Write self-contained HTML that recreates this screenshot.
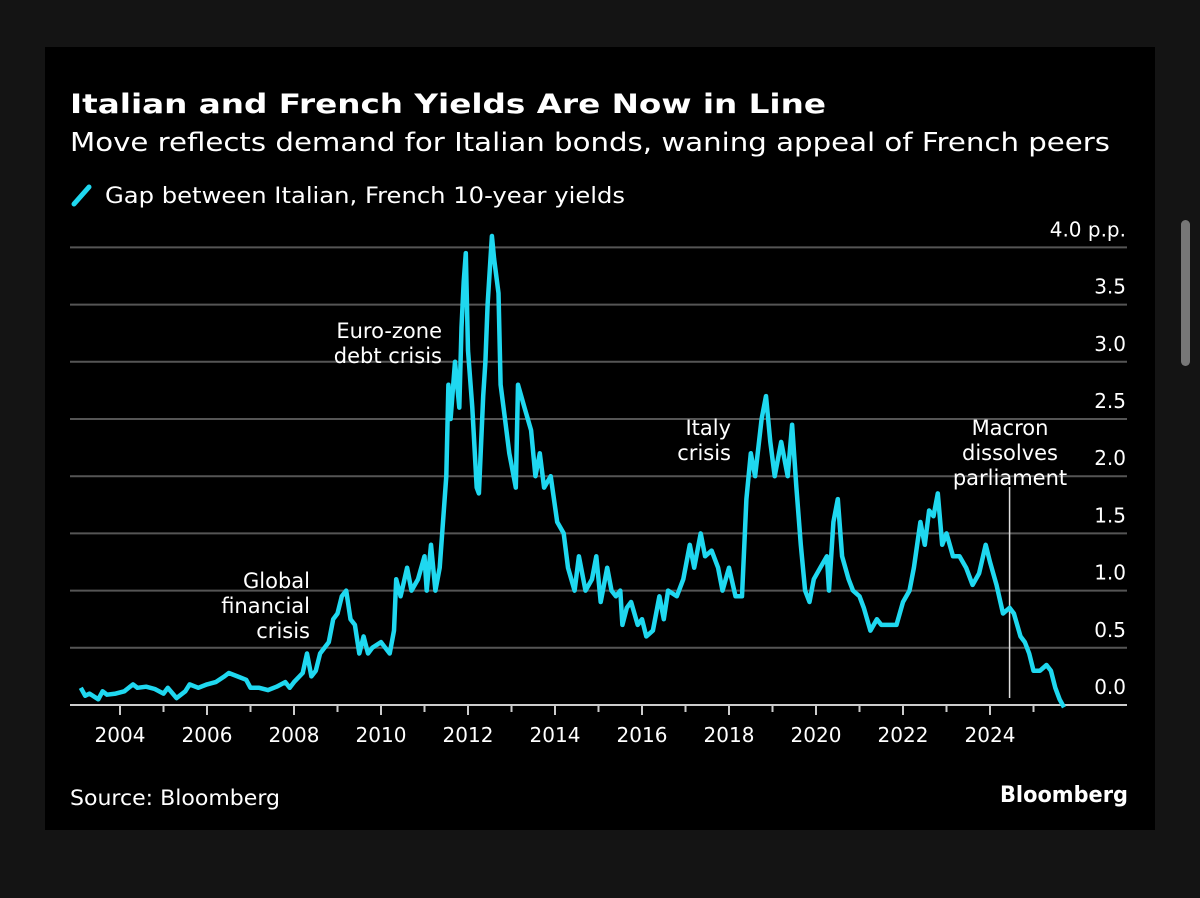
<!DOCTYPE html>
<html><head><meta charset="utf-8"><style>
html,body{margin:0;padding:0;background:#141414;width:1200px;height:898px;overflow:hidden}
svg{display:block}
text{font-family:"DejaVu Sans","Liberation Sans",sans-serif;fill:#fff}
</style></head><body>
<svg id="chart" width="1200" height="898">
<rect x="0" y="0" width="1200" height="898" fill="#141414"/>
<rect x="45" y="47" width="1110" height="783" fill="#000"/>
<rect x="1181" y="220" width="9" height="146" rx="4.5" fill="#777"/>
<text x="70" y="113" font-size="27" font-weight="bold" textLength="756" lengthAdjust="spacingAndGlyphs">Italian and French Yields Are Now in Line</text>
<text x="70" y="151" font-size="26" textLength="1040" lengthAdjust="spacingAndGlyphs">Move reflects demand for Italian bonds, waning appeal of French peers</text>
<line x1="74" y1="204" x2="89" y2="187" stroke="#1fd8f0" stroke-width="5" stroke-linecap="round"/>
<text x="105" y="203" font-size="22" textLength="520" lengthAdjust="spacingAndGlyphs">Gap between Italian, French 10-year yields</text>
<g id="grid"></g>
<g id="xaxis"></g>
<g id="ann"></g>
<path id="series" fill="none" stroke="#1fd8f0" stroke-width="4.5" stroke-linejoin="round"/>
<text x="70" y="805" font-size="21" textLength="210" lengthAdjust="spacingAndGlyphs">Source: Bloomberg</text>
<text x="1128" y="802" font-size="22" font-weight="bold" text-anchor="end" textLength="128" lengthAdjust="spacingAndGlyphs">Bloomberg</text>
</svg>
<script>
const yTicks=[0,0.5,1,1.5,2,2.5,3,3.5,4];
const yTickLabels=["0.0","0.5","1.0","1.5","2.0","2.5","3.0","3.5","4.0 p.p."];
const xTickYears=[2004,2006,2008,2010,2012,2014,2016,2018,2020,2022,2024];
const dates=[2003.1,2003.2,2003.3,2003.5,2003.6,2003.7,2003.9,2004.1,2004.3,2004.4,2004.6,2004.8,2005.0,2005.1,2005.3,2005.5,2005.6,2005.8,2006.0,2006.2,2006.4,2006.5,2006.7,2006.9,2007.0,2007.2,2007.4,2007.6,2007.8,2007.9,2008.0,2008.2,2008.3,2008.4,2008.5,2008.6,2008.8,2008.9,2009.0,2009.1,2009.2,2009.3,2009.4,2009.5,2009.6,2009.7,2009.8,2010.0,2010.1,2010.2,2010.3,2010.35,2010.45,2010.6,2010.7,2010.85,2011.0,2011.05,2011.15,2011.25,2011.35,2011.5,2011.55,2011.6,2011.7,2011.8,2011.85,2011.9,2011.95,2012.0,2012.1,2012.2,2012.25,2012.35,2012.4,2012.45,2012.55,2012.6,2012.7,2012.75,2012.85,2012.95,2013.1,2013.15,2013.3,2013.45,2013.55,2013.65,2013.75,2013.9,2014.05,2014.2,2014.3,2014.45,2014.55,2014.7,2014.85,2014.95,2015.05,2015.2,2015.3,2015.4,2015.5,2015.55,2015.65,2015.75,2015.9,2016.0,2016.1,2016.25,2016.4,2016.5,2016.6,2016.8,2016.95,2017.1,2017.2,2017.35,2017.45,2017.6,2017.75,2017.85,2018.0,2018.15,2018.3,2018.4,2018.5,2018.6,2018.75,2018.85,2018.95,2019.05,2019.2,2019.35,2019.45,2019.55,2019.65,2019.75,2019.85,2019.95,2020.1,2020.25,2020.3,2020.4,2020.5,2020.6,2020.75,2020.85,2021.0,2021.1,2021.25,2021.4,2021.5,2021.7,2021.85,2022.0,2022.15,2022.25,2022.4,2022.5,2022.6,2022.7,2022.8,2022.9,2023.0,2023.15,2023.3,2023.45,2023.6,2023.75,2023.9,2024.0,2024.15,2024.3,2024.45,2024.55,2024.7,2024.8,2024.9,2025.0,2025.15,2025.3,2025.4,2025.5,2025.6,2025.7];
const gapValues=[0.15,0.08,0.10,0.05,0.12,0.09,0.10,0.12,0.18,0.15,0.16,0.14,0.10,0.15,0.06,0.12,0.18,0.15,0.18,0.20,0.25,0.28,0.25,0.22,0.15,0.15,0.13,0.16,0.20,0.15,0.20,0.28,0.45,0.25,0.30,0.45,0.55,0.75,0.80,0.95,1.0,0.75,0.70,0.45,0.60,0.45,0.50,0.55,0.50,0.45,0.65,1.1,0.95,1.2,1.0,1.1,1.3,1.0,1.4,1.0,1.2,2.0,2.8,2.5,3.0,2.6,3.3,3.7,3.95,3.1,2.6,1.9,1.85,2.7,3.0,3.5,4.1,3.9,3.6,2.8,2.5,2.2,1.9,2.8,2.6,2.4,2.0,2.2,1.9,2.0,1.6,1.5,1.2,1.0,1.3,1.0,1.1,1.3,0.9,1.2,1.0,0.95,1.0,0.7,0.85,0.9,0.70,0.75,0.60,0.65,0.95,0.75,1.0,0.95,1.1,1.4,1.2,1.5,1.3,1.35,1.2,1.0,1.2,0.95,0.95,1.8,2.2,2.0,2.5,2.7,2.3,2.0,2.3,2.0,2.45,1.9,1.4,1.0,0.90,1.1,1.2,1.3,1.0,1.6,1.8,1.3,1.1,1.0,0.95,0.85,0.65,0.75,0.7,0.7,0.7,0.9,1.0,1.2,1.6,1.4,1.7,1.65,1.85,1.4,1.5,1.3,1.3,1.2,1.05,1.15,1.4,1.25,1.05,0.8,0.85,0.8,0.6,0.55,0.45,0.3,0.3,0.35,0.30,0.15,0.05,-0.02];
const annotations=[
 {lines:["Global","financial","crisis"],x:310,y:588,anchor:"end"},
 {lines:["Euro-zone","debt crisis"],x:442,y:338,anchor:"end"},
 {lines:["Italy","crisis"],x:731,y:435,anchor:"end"},
 {lines:["Macron","dissolves","parliament"],x:1010,y:435,anchor:"middle"}
];
const X=y=>120+(y-2004)*43.5;
const Y=v=>705-v*114.4;
const NS="http://www.w3.org/2000/svg";
function mk(tag,attrs,parent){const e=document.createElementNS(NS,tag);for(const k in attrs)e.setAttribute(k,attrs[k]);parent.appendChild(e);return e;}
const grid=document.getElementById('grid');
yTicks.forEach((v,i)=>{
 const l=mk('line',{x1:70,x2:1127,y1:Y(v),y2:Y(v),stroke:v===0?'#ccc':'#555','stroke-width':2},grid);
 
 
 const t=mk('text',{x:1126,y:Y(v)-11,'font-size':20,'text-anchor':'end'},grid);
 t.textContent=yTickLabels[i];
 
 
});
const xa=document.getElementById('xaxis');
for(let yr=2004;yr<=2025;yr++){
 const major=xTickYears.includes(yr);
 const tk=mk('line',{x1:X(yr),x2:X(yr),y1:706,y2:major?715:712,stroke:'#ccc','stroke-width':2},xa);
 
 
}
xTickYears.forEach(yr=>{
 const t=mk('text',{x:X(yr),y:742,'font-size':20,'text-anchor':'middle'},xa);
 t.textContent=yr;
 
 
});
const ann=document.getElementById('ann');
annotations.forEach(a=>{
 a.lines.forEach((s,i)=>{
  const t=mk('text',{x:a.x,y:a.y+i*25,'font-size':21,'text-anchor':a.anchor},ann);
  t.textContent=s;
  
  
 });
});
const ml=mk('line',{x1:X(2024.45),x2:X(2024.45),y1:487,y2:698,stroke:'#ddd','stroke-width':1.5},ann);


let d='';
dates.forEach((yr,i)=>{d+=(i?'L':'M')+X(yr).toFixed(1)+','+Y(gapValues[i]).toFixed(1);});
document.getElementById('series').setAttribute('d',d);
</script>
</body></html>
